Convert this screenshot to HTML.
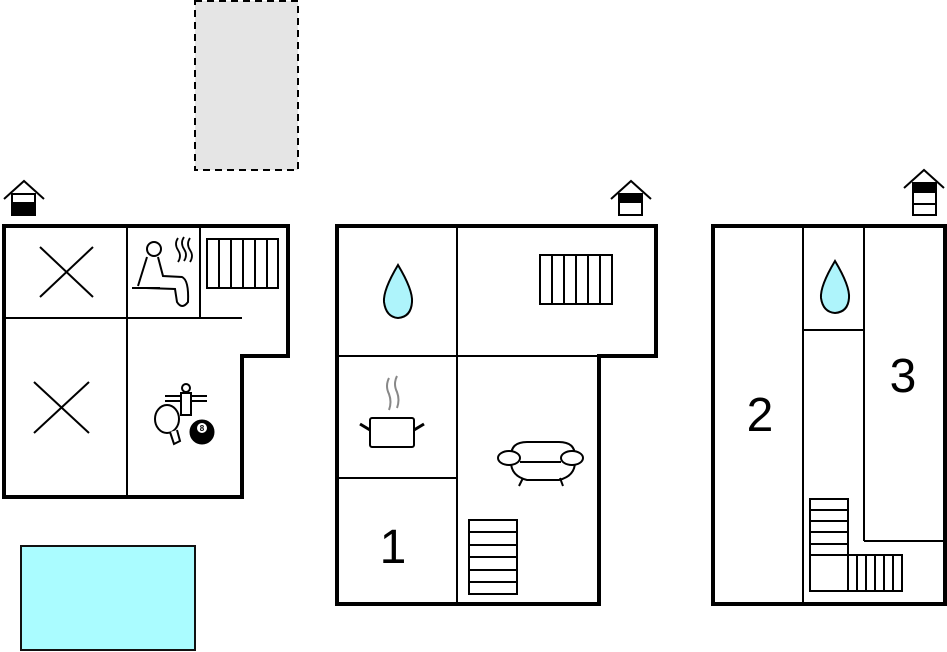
<!DOCTYPE html>
<html><head><meta charset="utf-8"><style>html,body{margin:0;padding:0;background:#fff}svg{display:block}</style></head>
<body>
<svg width="947" height="652" viewBox="0 0 947 652" xmlns="http://www.w3.org/2000/svg" font-family="Liberation Sans, sans-serif">
<rect x="195" y="1" width="103" height="169" fill="#e5e5e5" stroke="#000" stroke-width="2" stroke-dasharray="7,5"/>
<rect x="21" y="546" width="174" height="104" fill="#aafcff" stroke="#111" stroke-width="2"/>

<g fill="none" stroke="#000" stroke-width="2">
<path d="M4 199 L24 181 L44 199"/><rect x="12" y="194" width="23" height="21" fill="#fff"/>
<path d="M611 199 L631 181 L651 199"/><rect x="619" y="194" width="23" height="21" fill="#fff"/>
<path d="M904 188 L924 170 L944 188"/><rect x="913" y="183" width="23" height="32" fill="#fff"/>
</g>
<rect x="12" y="202" width="23" height="13" fill="#000"/>
<rect x="619" y="194" width="23" height="9" fill="#000"/>
<rect x="913" y="183" width="23" height="10" fill="#000"/>
<line x1="913" y1="204" x2="936" y2="204" stroke="#000" stroke-width="2"/>

<g stroke="#000" fill="none">
<path d="M4 226 H288 V356 H242 V497 H4 Z" stroke-width="4"/>
<g stroke-width="2">
<line x1="127" y1="226" x2="127" y2="497"/>
<line x1="4" y1="318" x2="242" y2="318"/>
<line x1="200" y1="226" x2="200" y2="318"/>
<line x1="40" y1="247" x2="93" y2="297"/><line x1="93" y1="247" x2="40" y2="297"/>
<line x1="34" y1="382" x2="89" y2="433"/><line x1="89" y1="382" x2="34" y2="433"/>
<rect x="207" y="239" width="71" height="49"/>
<line x1="219" y1="239" x2="219" y2="288"/><line x1="231" y1="239" x2="231" y2="288"/><line x1="243" y1="239" x2="243" y2="288"/><line x1="255" y1="239" x2="255" y2="288"/><line x1="267" y1="239" x2="267" y2="288"/>
<circle cx="154" cy="249" r="7"/>
<path d="M147 257 L138 286 M158 257 L163 276 L182 277 Q189 280 188 302 Q182 310 177 302 L175 289 L146 288"/>
<line x1="132" y1="288" x2="160" y2="288"/>
<path d="M178 238 q-4 6 0 12 q4 6 0 12 M184 237 q-4 6 0 12 q4 6 0 12 M190 238 q-4 6 0 12 q4 6 0 12" stroke-width="1.8"/>
<line x1="165" y1="396" x2="207" y2="396"/><line x1="165" y1="401" x2="207" y2="401"/>
<circle cx="186" cy="388" r="4" fill="#fff"/>
<path d="M181 393 h10 v22 h-10 Z" fill="#fff"/>
<ellipse cx="167" cy="419" rx="12" ry="14" fill="#fff"/>
<path d="M170 432 l4 12 l6 -3 l-3 -11" fill="#fff"/>
</g>
<circle cx="202" cy="432" r="12" fill="#000"/>
<circle cx="202" cy="428" r="5" fill="#fff" stroke="none"/>
</g>
<text x="202" y="431" font-size="8" font-weight="bold" text-anchor="middle">8</text>

<g stroke="#000" fill="none">
<path d="M337 226 H656 V356 H599 V604 H337 Z" stroke-width="4"/>
<g stroke-width="2">
<line x1="457" y1="226" x2="457" y2="604"/>
<line x1="337" y1="356" x2="599" y2="356"/>
<line x1="337" y1="478" x2="457" y2="478"/>
<rect x="540" y="255" width="72" height="49"/>
<line x1="552" y1="255" x2="552" y2="304"/><line x1="564" y1="255" x2="564" y2="304"/><line x1="576" y1="255" x2="576" y2="304"/><line x1="588" y1="255" x2="588" y2="304"/><line x1="600" y1="255" x2="600" y2="304"/>
<rect x="469" y="520" width="48" height="74"/>
<line x1="469" y1="532" x2="517" y2="532"/><line x1="469" y1="545" x2="517" y2="545"/><line x1="469" y1="557" x2="517" y2="557"/><line x1="469" y1="570" x2="517" y2="570"/><line x1="469" y1="582" x2="517" y2="582"/>
<rect x="370" y="418" width="44" height="29" rx="2"/>
<line x1="360" y1="424" x2="370" y2="430" stroke-width="3"/><line x1="424" y1="424" x2="414" y2="430" stroke-width="3"/>
<path d="M389 378 q-4 8 0 16 q3 8 0 16 M397 376 q-4 8 0 16 q3 8 0 16" stroke="#888" stroke-width="2"/>
<path d="M511 456 q0 -14 16 -14 h32 q16 0 16 14 M511 462 q0 14 16 18 h32 q16 -4 16 -18" fill="#fff"/>
<ellipse cx="509" cy="458" rx="11" ry="7" fill="#fff"/>
<ellipse cx="572" cy="458" rx="11" ry="7" fill="#fff"/>
<line x1="520" y1="462" x2="561" y2="462"/>
<line x1="523" y1="478" x2="519" y2="486"/><line x1="560" y1="478" x2="563" y2="486"/>
</g>
<path d="M398 265 Q383 290 384 302 Q386 317 398 318 Q411 317 412 302 Q413 290 398 265 Z" fill="#aef4fb" stroke="#000" stroke-width="2"/>
</g>
<text x="393" y="563" font-size="48" text-anchor="middle">1</text>

<g stroke="#000" fill="none">
<path d="M713 226 H945 V604 H713 Z" stroke-width="4"/>
<g stroke-width="2">
<line x1="803" y1="226" x2="803" y2="604"/>
<line x1="864" y1="226" x2="864" y2="541"/>
<line x1="803" y1="330" x2="864" y2="330"/>
<line x1="864" y1="541" x2="945" y2="541"/>
<rect x="810" y="499" width="38" height="92"/>
<line x1="810" y1="510" x2="848" y2="510"/><line x1="810" y1="521" x2="848" y2="521"/><line x1="810" y1="532" x2="848" y2="532"/><line x1="810" y1="544" x2="848" y2="544"/><line x1="810" y1="555" x2="848" y2="555"/>
<rect x="848" y="555" width="54" height="36"/>
<line x1="857" y1="555" x2="857" y2="591"/><line x1="866" y1="555" x2="866" y2="591"/><line x1="875" y1="555" x2="875" y2="591"/><line x1="884" y1="555" x2="884" y2="591"/><line x1="893" y1="555" x2="893" y2="591"/>
</g>
<path d="M835 261 Q820 286 821 298 Q823 312 835 313 Q848 312 849 298 Q850 286 835 261 Z" fill="#aef4fb" stroke="#000" stroke-width="2"/>
</g>
<text x="760" y="431" font-size="48" text-anchor="middle">2</text>
<text x="903" y="392" font-size="48" text-anchor="middle">3</text>
</svg>
</body></html>
